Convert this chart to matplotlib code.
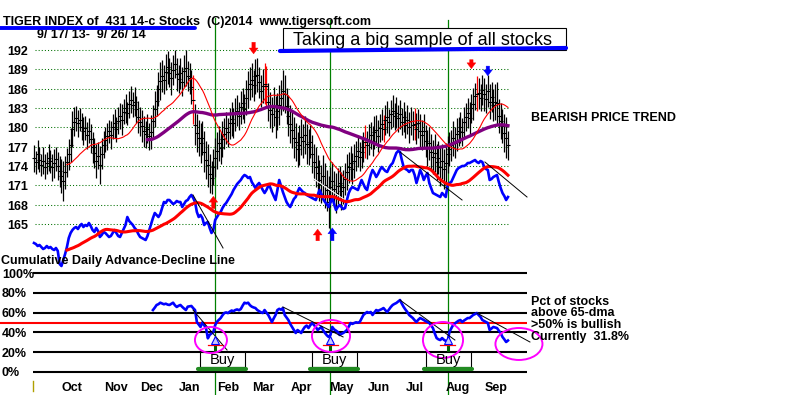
import numpy as np
import pandas as pd
import matplotlib
matplotlib.use("Agg")
import matplotlib.pyplot as plt
from matplotlib.patches import Rectangle, Ellipse

# ------------------------------------------------------------------ data
start_date = "2013-09-17"
end_date = "2014-09-26"
market_holidays = ["2013-11-28", "2013-12-25", "2014-01-01", "2014-01-20", "2014-02-17",
                   "2014-04-18", "2014-05-26", "2014-07-04", "2014-09-01"]

closes = [
    175.2, 174.6, 175.8, 175.0, 174.2, 174.8, 173.9, 174.5, 175.3, 174.7, 173.8, 174.4, 175.1, 174.0, 173.2, 172.4, 171.6, 173.0, 174.6, 175.8,
    177.2, 179.8, 180.9, 181.4, 180.6, 181.2, 180.1, 179.4, 179.9, 178.8, 179.5, 178.2, 176.9, 176.0, 174.8, 175.6, 174.2, 175.9, 177.3, 178.1,
    178.6, 179.4, 178.8, 180.1, 180.6, 179.7, 181.0, 181.8, 181.2, 182.4, 183.0, 182.2, 183.6, 184.3, 183.5, 184.0, 182.8, 181.6, 180.9, 180.2,
    179.4, 178.9, 179.8, 178.6, 179.3, 181.0, 182.8, 184.1, 185.9, 187.2, 188.0, 187.4, 188.6, 189.3, 188.5, 187.6, 188.9, 189.8, 188.2, 187.5,
    188.4, 187.1, 188.7, 189.2, 188.0, 187.6, 186.2, 184.3, 180.4, 179.1, 178.3, 177.6, 178.4, 176.2, 175.0, 174.1, 172.8, 172.2, 173.9, 175.3,
    176.4, 177.5, 176.8, 178.2, 179.0, 179.9, 179.2, 180.6, 181.3, 180.7, 182.0, 182.6, 181.8, 183.1, 183.7, 182.9, 184.6, 185.9, 186.8, 187.3,
    186.5, 187.9, 188.1, 187.0, 185.6, 186.4, 186.8, 186.4, 183.9, 182.7, 182.0, 183.2, 181.6, 182.5, 183.4, 184.6, 185.7, 185.1, 183.3, 181.8,
    180.5, 179.6, 178.4, 177.8, 176.6, 177.2, 178.5, 177.9, 178.8, 177.4, 176.9, 177.8, 175.9, 174.6, 173.8, 172.9, 171.8, 171.2, 172.4, 171.0,
    170.2, 168.4, 170.8, 171.6, 170.4, 169.8, 170.9, 171.4, 170.1, 170.7, 172.0, 173.1, 173.8, 174.5, 173.6, 174.8, 175.6, 176.3, 175.4, 176.1,
    176.9, 177.8, 177.3, 178.1, 178.8, 177.9, 179.2, 179.6, 178.7, 179.9, 180.5, 179.8, 181.1, 181.6, 180.8, 182.0, 182.5, 181.7, 182.3, 181.4,
    182.0, 180.9, 181.6, 180.4, 181.2, 180.0, 181.0, 180.3, 180.5, 179.8, 180.6, 179.5, 178.8, 179.4, 177.9, 176.8, 177.5, 176.2, 175.4, 176.0,
    174.6, 175.3, 173.9, 174.7, 173.6, 174.4, 175.8, 176.7, 177.2, 178.3, 177.6, 178.9, 179.4, 180.0, 179.3, 180.8, 181.6, 182.2, 181.5, 183.0,
    183.6, 184.8, 185.2, 185.3, 184.6, 185.8, 185.1, 184.4, 185.6, 184.0, 184.7, 183.5, 183.9, 183.8, 181.8, 181.0, 180.2, 179.1, 178.4, 177.2,
]

bar_ranges = [
    4.2, 3.6, 4.5, 3.9, 3.4, 4.2, 3.8, 3.5, 4.3, 3.6, 4.1, 4.6, 3.8, 4.2, 4.8, 5.3, 6.2, 5.0, 4.5, 4.9,
    5.3, 5.6, 4.5, 3.9, 4.2, 3.6, 4.1, 4.3, 3.8, 4.2, 3.9, 4.5, 4.9, 4.6, 5.3, 4.2, 5.9, 4.8, 4.2, 3.9,
    4.1, 3.6, 4.3, 3.9, 4.6, 3.8, 4.2, 4.1, 4.8, 3.9, 4.5, 3.6, 4.2, 4.3, 3.9, 4.6, 4.2, 4.9, 4.5, 5.0,
    4.8, 4.2, 4.6, 4.1, 5.3, 5.0, 5.6, 4.8, 5.3, 5.9, 4.9, 4.5, 5.5, 5.0, 4.6, 5.2, 4.8, 4.3, 5.0, 4.3,
    4.8, 4.5, 5.0, 5.5, 4.6, 4.9, 5.3, 7.5, 6.4, 5.9, 5.6, 6.2, 5.3, 6.4, 5.9, 6.7, 6.0, 5.0, 5.6, 6.0,
    5.6, 5.3, 4.9, 5.5, 4.8, 5.0, 4.5, 4.9, 5.3, 4.6, 5.0, 4.8, 4.3, 5.2, 4.9, 4.5, 5.5, 5.7, 5.0, 5.3,
    4.9, 5.5, 5.2, 4.8, 5.0, 5.3, 6.5, 6.2, 5.9, 5.6, 5.3, 6.0, 6.4, 5.7, 6.2, 5.5, 6.3, 5.9, 5.6, 6.4,
    6.0, 5.6, 6.4, 5.9, 5.5, 6.2, 5.7, 5.3, 6.0, 6.3, 5.6, 5.2, 5.9, 5.5, 6.2, 5.7, 6.4, 6.0, 6.7, 7.0,
    6.4, 8.0, 6.2, 5.9, 5.5, 6.3, 5.6, 5.2, 5.9, 5.3, 5.0, 5.5, 4.9, 5.3, 4.8, 5.2, 4.6, 5.0, 4.5, 4.9,
    4.6, 5.0, 4.3, 4.8, 4.2, 4.6, 5.0, 4.5, 4.9, 4.2, 4.8, 4.3, 4.6, 5.0, 4.2, 4.5, 4.9, 4.3, 4.8, 4.2,
    4.6, 4.3, 4.8, 4.2, 4.5, 4.9, 4.3, 4.6, 5.0, 4.8, 4.5, 5.0, 4.6, 5.2, 4.9, 5.5, 5.0, 5.6, 5.3, 5.9,
    5.6, 5.2, 6.0, 5.5, 6.2, 6.4, 5.7, 5.3, 4.9, 5.5, 4.8, 5.2, 4.5, 4.9, 4.3, 4.8, 4.2, 4.6, 5.0, 4.5,
    4.9, 4.3, 5.4, 4.8, 4.2, 4.6, 5.0, 4.5, 4.9, 5.3, 4.6, 5.0, 5.5, 6.5, 5.3, 5.7, 5.2, 5.9, 6.3, 4.5,
]

red_bar_days = [87, 126, 127, 181, 191, 208, 242]

# cumulative daily advance-decline line (arbitrary units)
ad_line = [
    27, 26, 24, 25, 23, 21, 22, 24, 22, 23, 21, 20, 22, 19, 6, 4, 10, 16, 23, 32,
    37, 40, 42, 43, 41, 44, 46, 43, 45, 44, 47, 44, 40, 38, 42, 39, 33, 35, 38, 37,
    35, 33, 34, 37, 40, 37, 34, 33, 37, 41, 45, 53, 49, 47, 45, 42, 40, 36, 33, 32,
    31, 30, 34, 40, 46, 52, 57, 55, 53, 56, 62, 68, 67, 70, 70, 68, 66, 67, 69, 68,
    68, 63, 66, 69, 70, 73, 75, 72, 68, 58, 53, 55, 52, 45, 47, 48, 42, 37, 40, 50,
    53, 56, 58, 62, 65, 67, 70, 73, 76, 80, 83, 86, 88, 90, 93, 95, 94, 92, 93, 88,
    85, 82, 85, 87, 84, 80, 77, 80, 84, 83, 78, 74, 70, 80, 90, 84, 78, 73, 68, 65,
    63, 67, 71, 73, 78, 82, 80, 78, 77, 75, 74, 73, 72, 71, 70, 75, 80, 76, 71, 68,
    66, 63, 68, 72, 66, 60, 63, 65, 63, 61, 62, 70, 77, 81, 83, 82, 81, 80, 85, 90,
    86, 82, 80, 88, 95, 100, 97, 93, 96, 100, 103, 101, 99, 98, 102, 105, 107, 112, 117, 119,
    118, 110, 103, 101, 100, 98, 100, 100, 95, 87, 93, 100, 96, 90, 94, 97, 87, 82, 77, 76,
    75, 74, 73, 77, 75, 73, 85, 87, 88, 92, 96, 100, 102, 103, 104, 104, 105, 107, 107, 108,
    109, 110, 108, 107, 109, 108, 103, 101, 100, 90, 91, 93, 94, 95, 88, 82, 77, 74, 70, 73,
]

# percent of stocks above their 65-dma (series begins at trading day 65)
pct_start_day = 65
pct_above_65dma = [
    62.6, 65.0, 67.7, 68.5, 70.0, 69.2, 68.4, 69.0, 68.1, 67.7, 68.9, 70.0, 67.4, 65.7, 66.9, 67.7, 65.8, 64.1, 62.6, 66.0,
    66.3, 66.7, 64.5, 62.6, 50.5, 48.0, 45.5, 50.0, 47.2, 44.4, 34.0, 37.5, 39.0, 40.5, 47.5, 50.8, 52.6, 54.5, 57.3, 59.6,
    60.2, 59.5, 61.0, 62.1, 61.4, 62.6, 63.2, 62.4, 63.6, 67.0, 70.0, 69.3, 70.0, 67.5, 66.0, 65.2, 64.6, 62.6, 61.5, 60.3,
    59.6, 62.6, 60.0, 57.6, 54.0, 50.5, 54.2, 57.6, 62.6, 63.8, 62.9, 64.6, 57.6, 55.0, 52.5, 48.6, 45.5, 42.3, 39.4, 42.4,
    41.0, 39.4, 42.8, 45.5, 46.9, 44.4, 47.3, 49.5, 47.4, 45.5, 42.4, 44.0, 45.5, 42.2, 39.4, 37.1, 35.4, 37.4, 45.5, 43.0,
    41.8, 40.4, 37.4, 38.5, 39.4, 40.8, 42.4, 46.0, 49.5, 48.6, 49.5, 50.2, 49.8, 50.5, 54.0, 57.6, 59.2, 60.6, 59.8, 60.6,
    57.6, 60.1, 62.6, 61.8, 62.6, 63.5, 64.6, 62.4, 60.6, 63.2, 65.7, 67.7, 68.8, 69.7, 71.2, 72.7, 69.0, 65.7, 63.0, 60.6,
    57.6, 56.0, 54.5, 52.3, 50.5, 52.8, 54.5, 53.6, 52.5, 51.4, 50.5, 49.5, 47.0, 44.4, 39.0, 34.3, 33.0, 32.3, 34.3, 32.5,
    31.4, 30.3, 40.4, 44.0, 47.5, 49.0, 50.5, 51.8, 52.5, 50.5, 52.0, 53.3, 54.5, 54.5, 56.0, 57.6, 58.5, 59.6, 57.5, 55.6,
    52.5, 51.5, 50.6, 49.5, 42.4, 44.0, 45.5, 45.0, 44.4, 41.8, 39.4, 35.4, 33.0, 30.3, 31.8,
]

price_ticks = [192, 189, 186, 183, 180, 177, 174, 171, 168, 165]
pct_ticks = [100, 80, 60, 40, 20, 0]
pct_tick_labels = ["100%", "80%", "60%", "40%", "20%", "0%"]
month_labels = ["Oct", "Nov", "Dec", "Jan", "Feb", "Mar", "Apr", "May", "Jun", "Jul", "Aug", "Sep"]
buy_days = [99, 162, 226]
ma_short_len, ma_long_len, ad_ma_len = 21, 65, 21

# signal arrows on the price panel: (day, tail price, tip price, colour)
arrow_days = [120, 239, 248, 98, 155, 163]
arrow_tails = [193.2, 190.5, 189.5, 167.4, 162.4, 162.4]
arrow_tips = [191.4, 189.1, 188.0, 169.3, 164.2, 164.4]
arrow_colors = ["red", "red", "blue", "red", "red", "blue"]

# ------------------------------------------------------------------ layout (pixels)
W, H = 800, 395
X0, DX = 34.0, 1.83            # pixel of day 0, pixels per trading day
PY192, PY165 = 50.0, 224.0     # pixel rows of the 192 / 165 price grid lines
PCT_Y0, PCT_PER = 372.0, 0.99  # pixel row of 0 %, pixels per percent
AD_Y0 = 270.0                  # pixel row of AD value 0 (1 px per unit)
FONT = "Liberation Sans"

ppu = (PY165 - PY192) / (192 - 165)


def day_of(x):
    return (x - X0) / DX


def price_of(y):
    return 192 - (y - PY192) / ppu


def pct_of(y):
    return (PCT_Y0 - y) / PCT_PER


def ad_of(y):
    return AD_Y0 - y


# ------------------------------------------------------------------ derived series
dates = pd.bdate_range(start_date, end_date, freq="C", holidays=market_holidays)
n = len(closes)
days = np.arange(n)
c = np.array(closes)
rng = np.array(bar_ranges)
highs = c + rng / 2
lows = c - rng / 2
ma_short = pd.Series(c).rolling(ma_short_len, min_periods=ma_short_len - 2).mean()
ma_long = pd.Series(c).rolling(ma_long_len, min_periods=ma_long_len - 2).mean()
ad = np.array(ad_line, dtype=float)
ad_ma = pd.Series(ad).rolling(ad_ma_len, min_periods=ad_ma_len - 2).mean()
pct = np.full(n, np.nan)
pct[pct_start_day:pct_start_day + len(pct_above_65dma)] = pct_above_65dma
month_first = [i for i in range(1, min(n, len(dates))) if dates[i].month != dates[i - 1].month]

# ------------------------------------------------------------------ figure
fig = plt.figure(figsize=(W / 100, H / 100), dpi=100)
fig.patch.set_facecolor("white")


def make_ax(ylim):
    ax = fig.add_axes([0, 0, 1, 1])
    ax.set_xlim(day_of(0), day_of(W))
    ax.set_ylim(*ylim)
    ax.axis("off")
    ax.patch.set_alpha(0)
    return ax


ax_p = make_ax((price_of(H), price_of(0)))
ax_a = make_ax((ad_of(H), ad_of(0)))
ax_q = make_ax((pct_of(H), pct_of(0)))
ax_t = fig.add_axes([0, 0, 1, 1])
ax_t.set_xlim(0, W)
ax_t.set_ylim(H, 0)
ax_t.axis("off")
ax_t.patch.set_alpha(0)

# ---- price panel
ax_p.hlines(price_ticks, day_of(35), day_of(510), colors="#007000",
            linestyles=(0, (1, 2)), lw=0.75, zorder=1)
for d, y0 in zip(buy_days, [18, 20, 20]):
    ax_p.axvline(d, ymin=0, ymax=1 - y0 / H, color="#008000", lw=0.9, zorder=1.5)

bar_colors = ["red" if i in red_bar_days else "black" for i in range(n)]
ax_p.vlines(days, lows, highs, colors=bar_colors, lw=0.9, zorder=2)
ax_p.plot(days, c, ls="none", marker="_", ms=3.0, mew=0.8, color="black", zorder=2)
ax_p.plot(days, ma_long, color="#800080", lw=2.4, zorder=3)
ax_p.plot(days, ma_short, color="red", lw=0.8, zorder=3)
ax_p.plot([day_of(305), day_of(348)], [price_of(173), price_of(202)], color="white", lw=0.8, zorder=3)

for d, t0, t1, col in zip(arrow_days, arrow_tails, arrow_tips, arrow_colors):
    ax_p.annotate("", xy=(d, t1), xytext=(d, t0),
                  arrowprops=dict(arrowstyle="simple,head_width=0.9,head_length=0.6,tail_width=0.35",
                                  color=col, lw=0.3, shrinkA=0, shrinkB=0, mutation_scale=7), zorder=4)

# ---- advance-decline line
ax_a.plot(days, ad, color="#0000ff", lw=1.9, zorder=3)
ax_a.plot(days, ad_ma, color="#ff0000", lw=2.2, zorder=3.5)
for (xa, ya), (xb, yb) in [((86.9, 75), (103.3, 22)), ((200, 118), (233.9, 70)), ((246.4, 108), (269.4, 73))]:
    ax_a.plot([xa, xb], [ya, yb], color="black", lw=0.7, zorder=4)

# ---- percent panel
ax_q.hlines(pct_ticks, day_of(33), day_of(527), colors="black", lw=1.5, zorder=1)
ax_q.hlines([50], day_of(0), day_of(527), colors="#ff0000", lw=1.5, zorder=1.2)
ax_q.plot(days, pct, color="#0000ff", lw=1.9, zorder=3)
for (xa, ya), (xb, yb) in [((86.9, 62.6), (105.5, 22.2)), ((136, 65.7), (168.9, 35.4)),
                           ((200, 72.7), (230, 32.3)), ((242, 59.6), (271, 30.3))]:
    ax_q.plot([xa, xb], [ya, yb], color="black", lw=0.7, zorder=4)

for d in buy_days:
    ax_q.plot([d, d], [pct_of(345), pct_of(352)], color="#006400", lw=2.2, zorder=4)
    ax_q.plot([d - 4, d + 4], [pct_of(345)] * 2, color="red", lw=0.9, zorder=4)
    ax_q.plot([d], [pct_of(339.5)], marker="^", ms=6, mfc="#c8c8ff", mec="blue", mew=0.8, zorder=5)

for cx, cy, w, h in [(96.7, 32.3, 17.5, 26.3), (162.3, 36.4, 20.8, 32.3),
                     (223.5, 32.3, 21.9, 36.4), (265.0, 28.3, 25.7, 32.3)]:
    ax_q.add_patch(Ellipse((cx, cy), w, h, fill=False, ec="#ff00ff", lw=1.4, zorder=6))

for left in [day_of(200), day_of(312), day_of(426)]:
    wd = 45 / DX
    ax_q.add_patch(Rectangle((left, pct_of(367)), wd, pct_of(352) - pct_of(367),
                             fc="white", ec="black", lw=0.8, zorder=5))
    ax_q.text(left + wd / 2, pct_of(364), "Buy", ha="center", va="baseline",
              fontsize=10.5, family=FONT, zorder=6)
    ax_q.plot([left - 1, left + wd + 0.7], [pct_of(368.5)] * 2, color="#228b22", lw=3,
              solid_capstyle="round", zorder=6)


# ------------------------------------------------------------------ texts (pixel coordinates)
def t(x, y, s, **kw):
    kw.setdefault("fontsize", 9)
    kw.setdefault("weight", "bold")
    kw.setdefault("ha", "left")
    kw.setdefault("va", "baseline")
    kw.setdefault("zorder", 3)
    ax_t.text(x, y, s, family=FONT, **kw)


t(3, 25, "TIGER INDEX of  431 14-c Stocks  (C)2014  www.tigersoft.com")
ax_t.plot([0, 195], [28, 28], color="#0000ff", lw=2.8, solid_capstyle="round", zorder=5)
t(37, 38, "9/ 17/ 13-  9/ 26/ 14")

ax_t.add_patch(Rectangle((283, 28), 283, 22, fc="white", ec="black", lw=0.8, zorder=4))
t(293, 45, "Taking a big sample of all stocks", fontsize=13, weight="normal", zorder=5)
ax_t.plot([280, 566], [51, 48], color="#0000ff", lw=3, solid_capstyle="round", zorder=6)

for p in price_ticks:
    t(7, PY192 + (192 - p) * ppu + 5, str(p))
for p, lab in zip(pct_ticks, pct_tick_labels):
    t(2, PCT_Y0 - p * PCT_PER + 4.5, lab)

t(1, 264, "Cumulative Daily Advance-Decline Line")
t(531, 121, "BEARISH PRICE TREND")
t(531, 305, "Pct of stocks")
t(531, 316.5, "above 65-dma")
t(531, 328, ">50% is bullish")
t(531, 340, "Currently  31.8%")

for lab, i in zip(month_labels, month_first):
    t(X0 + i * DX + 9.5, 391, lab)
ax_t.plot([33, 33], [381, 391], color="#b0a000", lw=1, zorder=3)

fig.savefig("out.png", dpi=100, facecolor="white")
